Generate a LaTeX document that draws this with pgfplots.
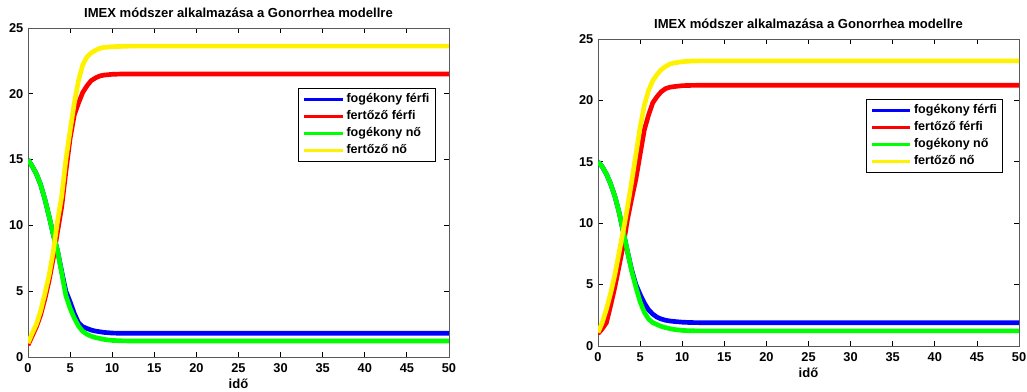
\documentclass[border=0pt]{standalone}
\usepackage{pgfplots}
\pgfplotsset{compat=1.18}
\usepackage{pgfplotstable}
\usepackage{fontspec}
\setmainfont{Liberation Sans}

% t  blue(fogekony ferfi)  red(fertozo ferfi)  green(fogekony no)  yellow(fertozo no)
\pgfplotstableread{
t    bm     rm     gf     yf
0    15.0   0.9    15.0   1.05
0.5  14.5   1.6    14.5   1.8
1    13.9   2.3    13.9   2.5
1.5  13.1   3.2    13.1   3.5
2    12.0   4.4    12.0   4.8
2.5  10.7   5.8    10.7   6.2
3    9.3    7.5    9.3    8.0
3.5  8.1    9.5    8.1    10.3
4    6.5    11.4   6.4    12.2
4.5  5.0    14.1   4.65   15.0
5    4.2    16.6   3.7    17.2
5.5  3.3    18.4   2.95   19.3
6    2.6    19.3   2.35   21.0
6.5  2.3    20.1   1.95   22.2
7    2.17   20.6   1.73   22.8
7.5  2.05   21.0   1.58   23.1
8    1.97   21.2   1.48   23.3
8.5  1.92   21.35  1.41   23.45
9    1.87   21.42  1.34   23.52
10   1.82   21.48  1.26   23.58
11   1.80   21.5   1.23   23.6
12   1.80   21.5   1.22   23.62
50   1.80   21.5   1.22   23.62
}\leftdata

\pgfplotstableread{
t    bm     rm     gf     yf
0    15.0   1.0    15.0   1.1
0.5  14.6   1.4    14.6   1.9
1    14.0   1.9    14.0   3.0
1.5  13.2   3.3    13.2   4.3
2    12.2   4.8    12.2   5.8
2.5  10.9   6.5    10.9   7.6
3    9.3    8.2    9.3    9.4
3.5  7.7    10.3   7.7    11.3
4    6.2    12.0   6.1    13.4
4.5  5.0    13.6   4.8    15.6
5    4.2    15.6   3.6    17.8
5.5  3.5    17.6   2.75   19.6
6    2.95   18.8   2.2    20.8
6.5  2.6    19.8   1.9    21.6
7    2.35   20.3   1.75   22.1
7.5  2.2    20.7   1.6    22.5
8    2.1    20.95  1.5    22.75
8.5  2.04   21.07  1.42   22.95
9    2.0    21.12  1.35   23.05
10   1.94   21.2   1.27   23.15
11   1.91   21.22  1.24   23.2
12   1.9    21.23  1.23   23.22
50   1.9    21.23  1.23   23.22
}\rightdata

\pgfplotsset{
  mystyle/.style={
    anchor=south west,
    scale only axis,
    width=315.75pt,
    xmin=0, xmax=50, ymin=0, ymax=25,
    xtick={0,5,...,50}, ytick={0,5,...,25},
    tick align=inside,
    major tick length=3.75pt,
    axis line style={black!65, line width=0.7pt},
    tick style={black, line width=0.6pt},
    ticklabel style={font=\bfseries\fontsize{9.6}{10}\selectfont},
    /pgf/number format/assume math mode=true,
    xticklabel style={yshift=-1.2pt},
    title={IMEX módszer alkalmazása a Gonorrhea modellre},
    title style={font=\bfseries\fontsize{9.8}{11}\selectfont, at={(axis description cs:0.5,1)}, anchor=base, yshift=1.8pt},
    xlabel={idő},
    xlabel style={font=\bfseries\fontsize{9.8}{11}\selectfont, at={(axis description cs:0.5,0)}, anchor=base},
    legend cell align=left,
    legend image code/.code={\draw[##1, line width=2.4pt] (0pt,0pt) -- (29pt,0pt);},
    legend style={draw=black, line width=0.75pt, fill=white,
      font=\bfseries\fontsize{9.4}{11}\selectfont,
      inner xsep=3pt, inner ysep=2pt, row sep=0.2pt,
      nodes={inner sep=1.5pt, text height=7.2pt, text depth=2.4pt},
      /tikz/every even column/.append style={column sep=2pt}},
    every axis plot/.append style={line width=3.5pt, line join=round},
  }
}

\begin{document}
\begin{tikzpicture}
\path[use as bounding box] (0,0) rectangle (770.25pt,294pt);

\begin{axis}[mystyle, at={(21pt,26.25pt)}, height=246.75pt,
  xlabel style={yshift=-24pt},
  legend style={at={(0.969,0.818)}, anchor=north east}]
\addplot[blue] table[x=t,y=bm] {\leftdata};
\addplot[red] table[x=t,y=rm] {\leftdata};
\addplot[green] table[x=t,y=gf] {\leftdata};
\addplot[yellow] table[x=t,y=yf] {\leftdata};
\legend{fogékony férfi, fertőző férfi, fogékony nő, fertőző nő}
\end{axis}

\begin{axis}[mystyle, at={(448.5pt,34.5pt)}, height=230.25pt,
  xlabel style={yshift=-23.5pt},
  legend style={at={(0.963,0.8055)}, anchor=north east}]
\addplot[blue] table[x=t,y=bm] {\rightdata};
\addplot[red] table[x=t,y=rm] {\rightdata};
\addplot[green] table[x=t,y=gf] {\rightdata};
\addplot[yellow] table[x=t,y=yf] {\rightdata};
\legend{fogékony férfi, fertőző férfi, fogékony nő, fertőző nő}
\end{axis}
\end{tikzpicture}
\end{document}
